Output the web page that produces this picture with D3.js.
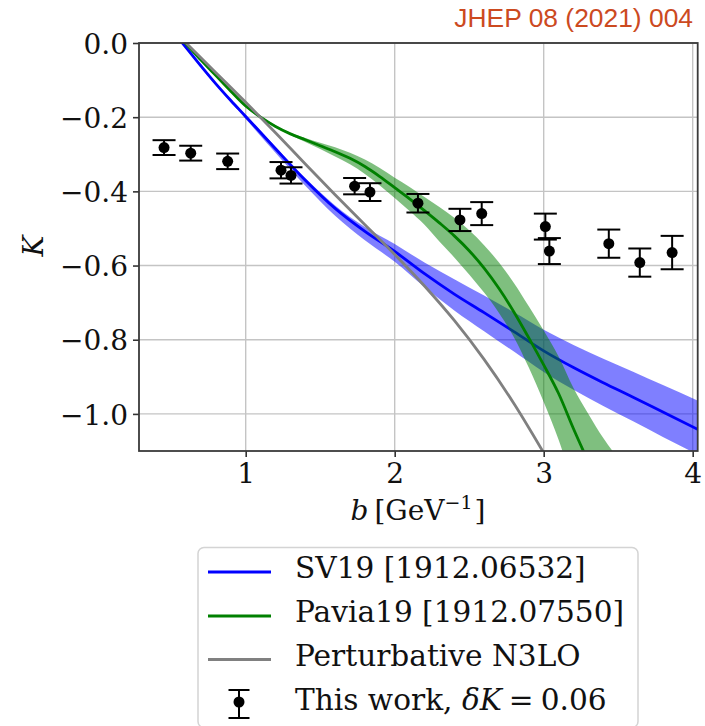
<!DOCTYPE html>
<html>
<head>
<meta charset="utf-8">
<script src="https://cdn.jsdelivr.net/npm/d3@7"></script>
<style>
  html, body { margin: 0; padding: 0; background: #ffffff; }
  svg { display: block; }
</style>
</head>
<body>
<div id="chart"></div>
<script>
// ---- Collins-Soper kernel K(b): extractions and lattice points ----

// SV19 fit: central curve and uncertainty band
const sv19B  = [0.5, 0.575, 0.7, 0.8, 0.9, 1.0, 1.2, 1.4, 1.6, 1.8, 2.0, 2.2, 2.4, 2.6, 2.8, 3.0, 3.2, 3.4, 3.6, 3.8, 4.05];
const sv19K  = [0.035, 0, -0.062, -0.11, -0.155, -0.198, -0.285, -0.37, -0.446, -0.508, -0.562, -0.622, -0.677, -0.727, -0.778, -0.83, -0.875, -0.916, -0.955, -0.995, -1.045];
const sv19Hi = [0.038, 0.003, -0.059, -0.107, -0.152, -0.194, -0.28, -0.364, -0.438, -0.496, -0.542, -0.592, -0.637, -0.681, -0.726, -0.773, -0.814, -0.851, -0.886, -0.922, -0.967];
const sv19Lo = [0.031, -0.004, -0.066, -0.114, -0.16, -0.205, -0.296, -0.385, -0.466, -0.532, -0.59, -0.658, -0.721, -0.777, -0.832, -0.887, -0.935, -0.979, -1.02, -1.062, -1.113];

// Pavia19 fit: central curve and uncertainty band
const paviaB  = [0.55, 0.6, 0.7, 0.8, 0.9, 1.0, 1.1, 1.2, 1.3, 1.4, 1.5, 1.6, 1.7, 1.8, 1.9, 2.0, 2.1, 2.2, 2.3, 2.4, 2.5, 2.6, 2.7, 2.8, 2.9, 3.0, 3.1, 3.2, 3.3, 3.4, 3.5];
const paviaK  = [0.018, -0.003, -0.046, -0.088, -0.13, -0.17, -0.2, -0.225, -0.245, -0.261, -0.277, -0.293, -0.311, -0.333, -0.36, -0.39, -0.42, -0.452, -0.485, -0.52, -0.56, -0.607, -0.662, -0.725, -0.795, -0.868, -0.945, -1.04, -1.13, -1.22, -1.31];
const paviaHi = [0.021, 0.0, -0.043, -0.085, -0.127, -0.167, -0.197, -0.222, -0.242, -0.256, -0.269, -0.281, -0.296, -0.314, -0.337, -0.363, -0.388, -0.415, -0.442, -0.471, -0.505, -0.545, -0.592, -0.647, -0.71, -0.775, -0.845, -0.93, -1.0, -1.065, -1.12];
const paviaLo = [0.015, -0.006, -0.049, -0.091, -0.133, -0.173, -0.203, -0.228, -0.248, -0.267, -0.286, -0.306, -0.327, -0.353, -0.384, -0.418, -0.453, -0.49, -0.535, -0.578, -0.624, -0.673, -0.728, -0.793, -0.875, -0.968, -1.07, -1.19, -1.3, -1.41, -1.52];

// Perturbative N3LO
const n3loB = [0.55, 0.6, 0.8, 1.0, 1.2, 1.4, 1.6, 1.8, 2.0, 2.2, 2.4, 2.6, 2.8, 3.0];
const n3loK = [0.02, 0, -0.08, -0.16, -0.242, -0.326, -0.409, -0.49, -0.57, -0.655, -0.748, -0.853, -0.972, -1.105];

// Lattice results ("This work")
const pointB   = [0.452, 0.631, 0.879, 1.237, 1.304, 1.731, 1.834, 2.156, 2.438, 2.584, 3.011, 3.038, 3.437, 3.645, 3.862];
const pointK   = [-0.282, -0.297, -0.319, -0.343, -0.357, -0.386, -0.402, -0.432, -0.477, -0.460, -0.495, -0.561, -0.541, -0.592, -0.565];
const pointErr = [0.020, 0.020, 0.021, 0.022, 0.022, 0.022, 0.024, 0.025, 0.030, 0.031, 0.035, 0.035, 0.038, 0.038, 0.045];

// Axis ticks and text
const xTicks = [1, 2, 3, 4];
const yTicks = [0.0, -0.2, -0.4, -0.6, -0.8, -1.0];
const legendLabels = ["SV19 [1912.06532]", "Pavia19 [1912.07550]", "Perturbative N3LO"];
const sourceNote = "JHEP 08 (2021) 004";

// ---- layout ----
const W = 705, H = 726;
const plot = { left: 139, right: 697.7, top: 43, bottom: 451 };
const serif = "'DejaVu Serif', serif";
const legendFont = 29.6;

const svg = d3.select("#chart").append("svg")
  .attr("width", W).attr("height", H)
  .attr("viewBox", `0 0 ${W} ${H}`);

const x = d3.scaleLinear().domain([0.2839, 4.0336]).range([plot.left, plot.right]);
const y = d3.scaleLinear().domain([-1.1, 0]).range([plot.bottom, plot.top]);

svg.append("defs").append("clipPath").attr("id", "plot-clip")
  .append("rect")
  .attr("x", plot.left).attr("y", plot.top)
  .attr("width", plot.right - plot.left).attr("height", plot.bottom - plot.top);

// grid
const grid = svg.append("g");
grid.selectAll("line.vx").data(xTicks).join("line")
  .attr("x1", d => x(d)).attr("x2", d => x(d))
  .attr("y1", plot.top).attr("y2", plot.bottom)
  .attr("stroke", "#c4c4c4").attr("stroke-width", 1.4);
grid.selectAll("line.hy").data(yTicks).join("line")
  .attr("x1", plot.left).attr("x2", plot.right)
  .attr("y1", d => y(d)).attr("y2", d => y(d))
  .attr("stroke", "#c4c4c4").attr("stroke-width", 1.4);

const body = svg.append("g").attr("clip-path", "url(#plot-clip)");

const zip = (bs, ...cols) => bs.map((b, i) => ({ b, v: cols.map(c => c[i]) }));

const band = d3.area()
  .x(d => x(d.b)).y0(d => y(d.v[1])).y1(d => y(d.v[0]))
  .curve(d3.curveMonotoneX);
const curve = d3.line()
  .x(d => x(d.b)).y(d => y(d.v[0]))
  .curve(d3.curveMonotoneX);

// SV19 band + line
body.append("path").datum(zip(sv19B, sv19Hi, sv19Lo))
  .attr("d", band).attr("fill", "#0000ff").attr("fill-opacity", 0.5);
body.append("path").datum(zip(sv19B, sv19K))
  .attr("d", curve).attr("fill", "none").attr("stroke", "#0000ff").attr("stroke-width", 2.8);

// Pavia19 band + line
body.append("path").datum(zip(paviaB, paviaHi, paviaLo))
  .attr("d", band).attr("fill", "#008000").attr("fill-opacity", 0.5);
body.append("path").datum(zip(paviaB, paviaK))
  .attr("d", curve).attr("fill", "none").attr("stroke", "#008000").attr("stroke-width", 2.8);

// Perturbative N3LO
body.append("path").datum(zip(n3loB, n3loK))
  .attr("d", curve).attr("fill", "none").attr("stroke", "#808080").attr("stroke-width", 2.8);

// lattice points with error bars
const capHalf = 11.5;
const pts = svg.append("g").selectAll("g").data(pointB.map((b, i) => ({ b, k: pointK[i], e: pointErr[i] })))
  .join("g");
pts.append("line")
  .attr("x1", d => x(d.b)).attr("x2", d => x(d.b))
  .attr("y1", d => y(d.k + d.e)).attr("y2", d => y(d.k - d.e))
  .attr("stroke", "#000").attr("stroke-width", 2);
pts.append("line")
  .attr("x1", d => x(d.b) - capHalf).attr("x2", d => x(d.b) + capHalf)
  .attr("y1", d => y(d.k + d.e)).attr("y2", d => y(d.k + d.e))
  .attr("stroke", "#000").attr("stroke-width", 2);
pts.append("line")
  .attr("x1", d => x(d.b) - capHalf).attr("x2", d => x(d.b) + capHalf)
  .attr("y1", d => y(d.k - d.e)).attr("y2", d => y(d.k - d.e))
  .attr("stroke", "#000").attr("stroke-width", 2);
pts.append("circle")
  .attr("cx", d => x(d.b)).attr("cy", d => y(d.k)).attr("r", 5.5).attr("fill", "#000");

// axes
const fmtY = d => (d < 0 ? "\u2212" : "") + Math.abs(d).toFixed(1);
const yAxis = d3.axisLeft(y).tickValues(yTicks).tickFormat(fmtY).tickSize(6).tickPadding(5);
const xAxis = d3.axisBottom(x).tickValues(xTicks).tickFormat(d3.format("d")).tickSize(6).tickPadding(5);

const gy = svg.append("g").attr("transform", `translate(${plot.left},0)`).call(yAxis);
const gx = svg.append("g").attr("transform", `translate(0,${plot.bottom})`).call(xAxis);
[gx, gy].forEach(g => {
  g.select(".domain").remove();
  g.selectAll(".tick line").attr("stroke", "#333").attr("stroke-width", 1.6);
  g.selectAll(".tick text").attr("font-family", serif).attr("font-size", 28).attr("fill", "#111");
});
gy.selectAll(".tick text").attr("dy", "0.36em");
gx.selectAll(".tick text").attr("dy", "0.74em");

// frame
svg.append("rect")
  .attr("x", plot.left).attr("y", plot.top)
  .attr("width", plot.right - plot.left).attr("height", plot.bottom - plot.top)
  .attr("fill", "none").attr("stroke", "#3a3a3a").attr("stroke-width", 1.8);

// axis labels
svg.append("text")
  .attr("transform", "translate(43,246) rotate(-90)")
  .attr("text-anchor", "middle")
  .attr("font-family", serif).attr("font-size", 28).attr("font-style", "italic")
  .attr("fill", "#111")
  .text("K");

const xl = svg.append("text")
  .attr("x", 418).attr("y", 520).attr("text-anchor", "middle")
  .attr("font-family", serif).attr("font-size", 28).attr("fill", "#111");
xl.append("tspan").attr("font-style", "italic").text("b");
xl.append("tspan").attr("dx", 6).text("[GeV");
xl.append("tspan").attr("dy", -11).attr("font-size", 19).text("\u22121");
xl.append("tspan").attr("dy", 11).attr("dx", 2).text("]");

// source note
svg.append("text")
  .attr("x", 693).attr("y", 27).attr("text-anchor", "end")
  .attr("font-family", "'Liberation Sans', Arial, sans-serif").attr("font-size", 26.4)
  .attr("fill", "#cc4a1f")
  .text(sourceNote);

// legend
const leg = svg.append("g");
leg.append("rect")
  .attr("x", 198).attr("y", 547.5).attr("width", 440).attr("height", 180).attr("rx", 6)
  .attr("fill", "#ffffff").attr("fill-opacity", 0.8)
  .attr("stroke", "#d4d4d4").attr("stroke-width", 1.5);

const legendColors = ["#0000ff", "#008000", "#808080"];
const rowY = [572, 616, 659.5, 702];
legendLabels.forEach((lab, i) => {
  leg.append("line")
    .attr("x1", 208).attr("x2", 271).attr("y1", rowY[i]).attr("y2", rowY[i])
    .attr("stroke", legendColors[i]).attr("stroke-width", 2.8);
  leg.append("text")
    .attr("x", 295).attr("y", rowY[i] + 6)
    .attr("font-family", serif).attr("font-size", legendFont).attr("fill", "#111")
    .text(lab);
});
// errorbar handle
const hx = 239, hy = rowY[3];
leg.append("line").attr("x1", hx).attr("x2", hx).attr("y1", hy - 12).attr("y2", hy + 16)
  .attr("stroke", "#000").attr("stroke-width", 2);
leg.append("line").attr("x1", hx - 10.5).attr("x2", hx + 10.5).attr("y1", hy - 12).attr("y2", hy - 12)
  .attr("stroke", "#000").attr("stroke-width", 2);
leg.append("line").attr("x1", hx - 10.5).attr("x2", hx + 10.5).attr("y1", hy + 16).attr("y2", hy + 16)
  .attr("stroke", "#000").attr("stroke-width", 2);
leg.append("circle").attr("cx", hx).attr("cy", hy).attr("r", 5.5).attr("fill", "#000");

const lt = leg.append("text")
  .attr("x", 295).attr("y", hy + 8)
  .attr("font-family", serif).attr("font-size", legendFont).attr("fill", "#111");
lt.append("tspan").text("This work, ");
lt.append("tspan").attr("font-style", "italic").text("\u03b4K");
lt.append("tspan").attr("dx", 7).text("=");
lt.append("tspan").attr("dx", 7).text("0.06");
</script>
</body>
</html>
